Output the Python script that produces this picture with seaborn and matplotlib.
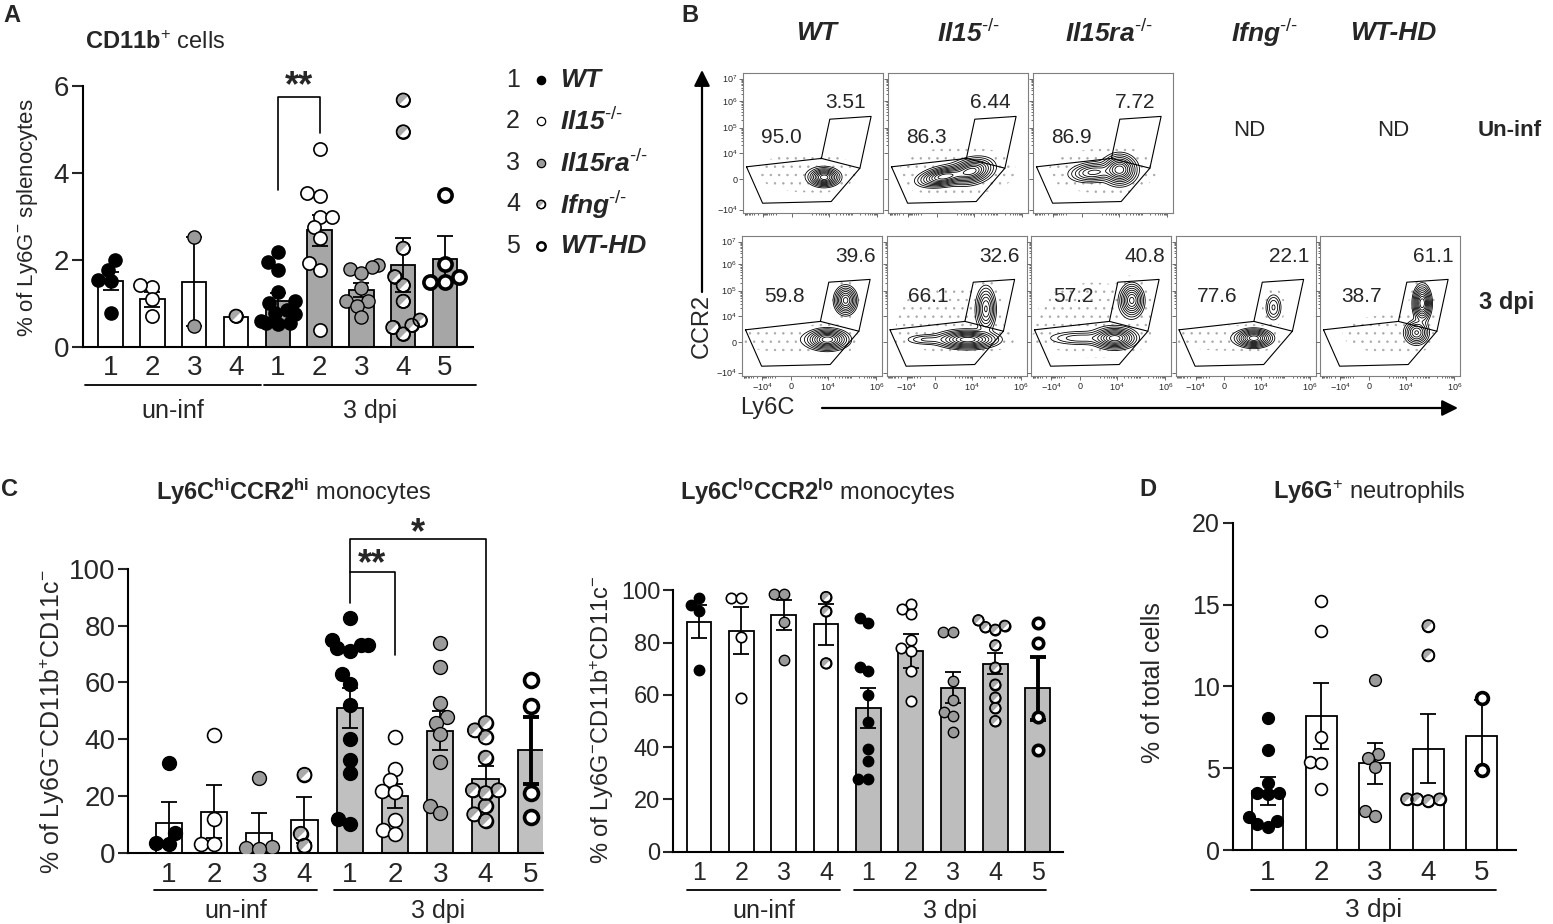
import numpy as np
import seaborn as sns
import matplotlib.pyplot as plt
from matplotlib import font_manager
from matplotlib.path import Path
from matplotlib.transforms import blended_transform_factory

sns.set_style('ticks')
have = {f.name for f in font_manager.fontManager.ttflist}
NARROW = 'Liberation Sans Narrow' if 'Liberation Sans Narrow' in have else 'Liberation Sans'
plt.rcParams['font.family'] = ['Liberation Sans', 'DejaVu Sans']
plt.rcParams['mathtext.fontset'] = 'custom'
plt.rcParams['mathtext.sf'] = 'Liberation Sans'
plt.rcParams['mathtext.rm'] = 'Liberation Sans'
plt.rcParams['mathtext.bf'] = 'Liberation Sans:bold'
plt.rcParams['mathtext.it'] = 'Liberation Sans:italic'
plt.rcParams['mathtext.default'] = 'sf'
plt.rcParams['hatch.color'] = '#a0a0a0'
plt.rcParams['hatch.linewidth'] = 0.5

W, H = 1553, 924

# ---------------- data ----------------
GENO_LABELS = ['WT', r'Il15$^{\text{-/-}}$', r'Il15ra$^{\text{-/-}}$', r'Ifng$^{\text{-/-}}$', 'WT-HD']
GENO_FACE = ['black', 'white', '#9b9b9b', 'white', 'white']
GENO_LW = [1.0, 1.2, 1.0, 1.2, 2.6]
IFNG_GRAY = '#a9a9a9'

GROUP_GENO = [0, 1, 2, 3, 0, 1, 2, 3, 4]
TICKS_9 = ['1', '2', '3', '4', '1', '2', '3', '4', '5']

# A: CD11b+ cells, % of Ly6G- splenocytes
A_MEAN = [1.52, 1.10, 1.50, 0.70, 1.05, 2.68, 1.32, 1.88, 2.03]
A_SEM = [0.20, 0.17, 1.02, 0.0, 0.20, 0.36, 0.16, 0.62, 0.52]
A_POINTS = [[2.0, 1.78, 1.55, 1.52, 0.78],
            [1.38, 1.42, 1.10, 0.72],
            [2.53, 0.49],
            [0.71],
            [2.18, 1.95, 1.78, 1.26, 1.05, 1.02, 0.85, 0.78, 0.75, 0.60, 0.55, 0.52, 0.55],
            [4.56, 3.55, 3.48, 3.0, 3.0, 2.75, 2.5, 1.94, 1.78, 0.4],
            [1.88, 1.85, 1.80, 1.70, 1.35, 1.05, 1.05, 0.95, 0.70],
            [5.68, 4.95, 2.27, 1.62, 1.42, 1.05, 0.62, 0.50, 0.45, 0.30],
            [3.5, 1.9, 1.6, 1.5, 1.5]]
A_SIG = [(4, 5, 3.62, 5.75, 4.93, '**', 5.98)]

# C left: Ly6C hi CCR2 hi monocytes
C1_MEAN = [10.5, 14.5, 7.0, 11.5, 51.0, 20.0, 43.0, 26.0, 36.0]
C1_SEM = [7.3, 9.4, 7.0, 8.2, 7.0, 4.3, 7.0, 4.6, 11.7]
C1_POINTS = [[31.5, 6.8, 3.5, 3.1],
             [41.3, 12.0, 2.9, 2.9],
             [26.4, 2.1, 1.7, 1.4],
             [27.5, 6.7, 2.5],
             [82.5, 75, 73, 73, 72, 71, 63, 59.5, 52, 40, 32.5, 28, 12, 10],
             [40.8, 29.5, 25.5, 21.8, 21.5, 11.5, 8.0, 6.5],
             [73.8, 65.5, 52.6, 47.8, 45.8, 41.8, 32, 16.5, 14],
             [45.7, 43.1, 40.6, 33.5, 22, 22, 21, 16.4, 13.5, 11.3],
             [61, 51.8, 21, 12.6]]
C1_SIG = [(4, 5, 88, 98.8, 69.8, '**', 101.3), (4, 7, 98.8, 110.6, 48.6, '*', 112.3)]

# C right: Ly6C lo CCR2 lo monocytes
C2_MEAN = [88, 84.5, 90.5, 87, 55, 77, 62.8, 72, 62.5]
C2_SEM = [6.3, 9.0, 5.8, 7.7, 7.5, 6.5, 6.0, 4.0, 12.0]
C2_POINTS = [[97, 94.6, 92.2, 69.6],
             [97, 97, 82, 59],
             [98.5, 98.5, 88, 73.5],
             [97.5, 92, 72.1],
             [89.5, 87.5, 70.8, 69, 60, 49.5, 39.5, 34.8, 28, 27.8],
             [95, 93, 91, 81, 78, 77, 69, 57.5],
             [84, 84, 65.5, 58, 53.5, 52, 46],
             [88.6, 86.5, 86, 85, 79, 70.5, 64, 59, 55, 50],
             [87.6, 80, 51.6, 38.9]]

# D: Ly6G+ neutrophils
D_GENO = [0, 1, 2, 3, 4]
D_MEAN = [3.6, 8.2, 5.3, 6.2, 7.0]
D_SEM = [0.85, 2.0, 1.25, 2.1, 2.2]
D_POINTS = [[8.1, 6.1, 4.1, 3.5, 3.5, 3.4, 2.0, 1.8, 1.6, 1.4],
            [15.2, 13.4, 6.9, 5.4, 5.3, 3.7],
            [10.4, 5.9, 5.6, 5.1, 2.4, 2.1],
            [13.7, 11.9, 3.1, 3.1, 3.1, 3.0],
            [9.3, 4.9]]

# B: flow plots (axis units 0-10); populations (cx, cy, sx, sy, angle, weight)
FLOW_TITLES = ['WT', r'Il15$^{\text{-/-}}$', r'Il15ra$^{\text{-/-}}$', r'Ifng$^{\text{-/-}}$', 'WT-HD']
FLOW_TOP = [
    [(5.8, 2.55, 0.50, 0.30, 0, 1.0), (4.6, 2.9, 2.0, 0.8, 0, 0.03)],
    [(4.0, 2.6, 0.85, 0.30, 10, 0.8), (6.0, 3.0, 0.70, 0.40, 15, 0.75), (5.0, 3.0, 2.2, 0.9, 0, 0.03)],
    [(4.3, 2.9, 0.80, 0.32, 5, 0.5), (6.2, 3.1, 0.55, 0.50, 0, 1.0), (5.0, 3.0, 2.2, 0.9, 0, 0.03)],
]
FLOW_BOT = [
    [(6.1, 2.6, 0.70, 0.35, 0, 1.0), (7.4, 5.4, 0.38, 0.48, 0, 0.8), (3.5, 2.6, 2.2, 0.5, 0, 0.03)],
    [(5.8, 2.6, 1.00, 0.30, 0, 1.0), (2.8, 2.6, 0.80, 0.20, 0, 0.15), (7.1, 4.8, 0.33, 0.75, 0, 0.6),
     (4.5, 4.0, 2.5, 1.5, 0, 0.02)],
    [(6.0, 2.7, 0.70, 0.35, 0, 1.0), (3.5, 2.7, 1.20, 0.25, 0, 0.2), (7.2, 5.4, 0.40, 0.55, 0, 0.8),
     (4.5, 4.0, 2.5, 1.6, 0, 0.025)],
    [(5.6, 2.7, 0.60, 0.30, 0, 1.0), (7.0, 4.9, 0.30, 0.50, 0, 0.25), (3.5, 2.7, 2.0, 0.5, 0, 0.03)],
    [(7.3, 5.2, 0.30, 0.60, 0, 1.0), (6.9, 3.1, 0.40, 0.40, 0, 0.6), (5.0, 3.0, 2.5, 1.0, 0, 0.015)],
]
FLOW_TOP_LEFT = ['95.0', '86.3', '86.9']
FLOW_TOP_RIGHT = ['3.51', '6.44', '7.72']
FLOW_BOT_LEFT = ['59.8', '66.1', '57.2', '77.6', '38.7']
FLOW_BOT_RIGHT = ['39.6', '32.6', '40.8', '22.1', '61.1']
GATE_LO_X = [0.25, 5.6, 8.35, 6.3, 1.4, 0.25]
GATE_LO_Y = [3.3, 3.9, 3.2, 0.82, 0.7, 3.3]
GATE_HI_X = [5.6, 6.2, 9.15, 8.35]
GATE_HI_Y = [3.9, 6.7, 6.9, 3.2]
FX_TICKS = [1.44, 3.48, 6.12, 9.6]
FX_LABELS = [r'$-10^{4}$', '0', r'$10^{4}$', r'$10^{6}$']
FY_TICKS = [0.24, 2.4, 4.3, 6.1, 8.0, 9.6]
FY_LABELS = [r'$-10^{4}$', '0', r'$10^{4}$', r'$10^{5}$', r'$10^{6}$', r'$10^{7}$']
LEVELS = [0.05, 0.09, 0.15, 0.23, 0.33, 0.45, 0.58, 0.72, 0.87]

fig = plt.figure(figsize=(W / 100, H / 100), dpi=100)
renderer = fig.canvas.get_renderer()


def rect(x0, y0, x1, y1):
    return [x0 / W, 1 - y1 / H, (x1 - x0) / W, (y1 - y0) / H]


HALF = Path.wedge(45, 225)


def bar_panel(ax, means, sems, points, genos, faces, ms, xlim, ylim, hd_err_lw=1.3):
    pos = np.arange(len(means))
    ax.set_xlim(*xlim)
    ax.set_ylim(*ylim)
    sns.barplot(x=pos, y=means, native_scale=True, width=0.58, color='white',
                edgecolor='black', linewidth=1.3, errorbar=None, ax=ax, zorder=1)
    for patch, fc in zip(ax.patches, faces):
        patch.set_facecolor(fc)
    for p, m, s, g in zip(pos, means, sems, genos):
        if s > 0:
            lw = hd_err_lw if g == 4 else 1.3
            ax.errorbar(p, m, yerr=s, fmt='none', ecolor='black', elinewidth=lw,
                        capsize=6, capthick=lw, zorder=2.5)
    ax.set_xlim(*xlim)
    ax.set_ylim(*ylim)
    for p, vals, g in zip(pos, points, genos):
        # let seaborn place the swarm with a tighter size, then draw full-size dots there
        sns.swarmplot(x=np.full(len(vals), p), y=vals, native_scale=True, size=ms * 0.78,
                      color=GENO_FACE[g], edgecolor='black', linewidth=GENO_LW[g], ax=ax)
        ax.set_xlim(*xlim)
        ax.set_ylim(*ylim)
        coll = ax.collections[-1]
        coll.draw(renderer)
        off = np.array(coll.get_offsets())
        coll.remove()
        ax.scatter(off[:, 0], off[:, 1], s=ms ** 2, color=GENO_FACE[g], edgecolors='black',
                   linewidths=GENO_LW[g], zorder=3)
        if g == 3:
            ax.scatter(off[:, 0], off[:, 1], s=ms ** 2, marker=HALF, color=IFNG_GRAY,
                       linewidths=0, zorder=3.1)
            ax.scatter(off[:, 0], off[:, 1], s=ms ** 2, facecolors='none',
                       edgecolors='black', linewidths=GENO_LW[g], zorder=3.2)
    ax.set_xlim(*xlim)
    ax.set_ylim(*ylim)
    sns.despine(ax=ax)
    for s in ['left', 'bottom']:
        ax.spines[s].set_linewidth(1.5)
        ax.spines[s].set_color('black')


def group_lines(ax, spans, labels, yline, ytext, fs, family):
    tr = blended_transform_factory(ax.transData, fig.transFigure)
    for (a, b), lab in zip(spans, labels):
        ax.plot([a, b], [1 - yline / H] * 2, color='black', lw=1.3, transform=tr, clip_on=False)
        ax.text((a + b) / 2, 1 - ytext / H, lab, transform=tr, ha='center', va='center',
                fontsize=fs, family=family)


def brackets(ax, sigs, fs):
    for x1, x2, y1, yt, y2, lab, ty in sigs:
        ax.plot([x1, x1, x2, x2], [y1, yt, yt, y2], color='black', lw=1.2, clip_on=False)
        ax.text((x1 + x2) / 2, ty, lab, ha='center', va='center', fontsize=fs, fontweight='bold')


# ---------------- panel A ----------------
axA = fig.add_axes(rect(83, 60, 473, 347))
bar_panel(axA, A_MEAN, A_SEM, A_POINTS, GROUP_GENO, ['white'] * 4 + ['#a6a6a6'] * 5, 9.5,
          (-0.66, 8.67), (0, 6.6))
brackets(axA, A_SIG, 26)
axA.spines['left'].set_bounds(0, 6)
axA.set_yticks([0, 2, 4, 6])
axA.set_xticks(range(9))
axA.set_xticklabels(TICKS_9)
axA.tick_params(axis='y', length=8, width=1.5, labelsize=20, pad=2)
axA.tick_params(axis='x', length=0, labelsize=20, pad=6)
group_lines(axA, [(-0.61, 3.6), (3.68, 8.75)], ['un-inf', '3 dpi'], 385, 411, 18, 'Liberation Sans')

# legend for genotypes
axL = fig.add_axes(rect(500, 60, 680, 265))
axL.axis('off')
axL.set_xlim(500, 680)
axL.set_ylim(5.458, 0.518)
for i, lab in enumerate(GENO_LABELS):
    r = i + 1
    axL.text(513, r, str(r), ha='center', va='center', fontsize=18)
    axL.scatter([541], [r], s=36, color=GENO_FACE[i], edgecolors='black',
                linewidths=1.8 if i == 4 else 0.9, zorder=3)
    if i == 3:
        axL.scatter([541], [r], s=36, marker=HALF, color=IFNG_GRAY, linewidths=0, zorder=3.1)
        axL.scatter([541], [r], s=36, facecolors='none', edgecolors='black', linewidths=0.9, zorder=3.2)
    axL.text(560, r, lab, ha='left', va='center', fontsize=19, fontweight='bold', fontstyle='italic')

# ---------------- panel B ----------------
fx_minor = []
for base in [4.38, 6.12, 7.86]:
    for k in range(2, 10):
        fx_minor.append(base + 1.74 * np.log10(k))
fx_minor = fx_minor + [3.48 - (p - 3.48) * 0.77 for p in fx_minor + [6.12, 7.86]]
fx_minor = [p for p in fx_minor if 0.05 < p < 9.95]
fy_minor = []
for base, nxt in [(4.3, 6.1), (6.1, 8.0), (8.0, 9.6)]:
    for k in range(2, 10):
        fy_minor.append(base + (nxt - base) * np.log10(k))
fy_minor = fy_minor + [2.4 - (p - 2.4) * 1.14 for p in fy_minor[:8]]
fy_minor = [p for p in fy_minor if 0.05 < p < 9.95]

gx, gy = np.meshgrid(np.linspace(0, 10, 260), np.linspace(0, 10, 260))


def flow_axes(x0, y0, comps, lnum, rnum, lpos, rpos, xlab, ylab):
    ax = fig.add_axes(rect(x0, y0, x0 + 140, y0 + 140))
    dens = np.zeros_like(gx)
    for cx, cy, sx, sy, ang, w in comps:
        t = np.deg2rad(ang)
        dx, dy = gx - cx, gy - cy
        u = dx * np.cos(t) + dy * np.sin(t)
        v = -dx * np.sin(t) + dy * np.cos(t)
        dens += w * np.exp(-0.5 * ((u / sx) ** 2 + (v / sy) ** 2))
    peak = dens.max()
    halo = ax.contourf(gx, gy, dens, levels=[peak * 0.006, peak * LEVELS[0]], colors='none',
                       hatches=['..'])
    halo.set_edgecolor('#a8a8a8')
    halo.set_linewidth(0)
    ax.contour(gx, gy, dens, levels=peak * np.array(LEVELS), colors='black', linewidths=0.6)
    ax.plot(GATE_LO_X, GATE_LO_Y, color='black', lw=0.8)
    ax.plot(GATE_HI_X, GATE_HI_Y, color='black', lw=0.8)
    ax.text(lpos[0], lpos[1], lnum, ha='center', va='center', fontsize=15)
    ax.text(rpos[0], rpos[1], rnum, ha='center', va='center', fontsize=15)
    ax.set_xlim(0, 10)
    ax.set_ylim(0, 10)
    ax.set_xticks(FX_TICKS)
    ax.set_yticks(FY_TICKS)
    ax.set_xticks(fx_minor, minor=True)
    ax.set_yticks(fy_minor, minor=True)
    ax.set_xticklabels(FX_LABELS if xlab else [])
    ax.set_yticklabels(FY_LABELS if ylab else [])
    ax.tick_params(which='both', direction='out', width=0.6, labelsize=6.5, pad=1, color='#555555')
    ax.tick_params(which='major', length=3)
    ax.tick_params(which='minor', length=1.6)
    for s in ax.spines.values():
        s.set_color('#7f7f7f')
        s.set_linewidth(0.8)
    return ax


for i in range(3):
    flow_axes(743 + 145 * i, 73, FLOW_TOP[i], FLOW_TOP_LEFT[i], FLOW_TOP_RIGHT[i],
              (2.75, 5.4), (7.3, 7.9), False, i == 0)
for i in range(5):
    flow_axes(742 + 144.5 * i, 236, FLOW_BOT[i], FLOW_BOT_LEFT[i], FLOW_BOT_RIGHT[i],
              (3.0, 5.7), (8.1, 8.5), True, i == 0)

# ---------------- panel C ----------------
axC1 = fig.add_axes(rect(128, 512, 543, 852.7))
bar_panel(axC1, C1_MEAN, C1_SEM, C1_POINTS, GROUP_GENO, ['white'] * 4 + ['#c0c0c0'] * 5, 10,
          (-0.9, 8.27), (0, 120), 2.8)
brackets(axC1, C1_SIG, 26)
axC1.spines['left'].set_bounds(0, 100)
axC1.set_yticks([0, 20, 40, 60, 80, 100])
axC1.set_xticks(range(9))
axC1.set_xticklabels(TICKS_9)
axC1.tick_params(axis='y', length=7, width=1.5, labelsize=20, pad=2)
axC1.tick_params(axis='x', length=0, labelsize=20, pad=7)
group_lines(axC1, [(-0.32, 3.28), (3.65, 8.26)], ['un-inf', '3 dpi'], 890, 911, 18, 'Liberation Sans')

axC2 = fig.add_axes(rect(672.7, 580, 1063, 851.7))
bar_panel(axC2, C2_MEAN, C2_SEM, C2_POINTS, GROUP_GENO, ['white'] * 4 + ['#bdbdbd'] * 5, 7.5,
          (-0.62, 8.6), (0, 104), 2.8)
axC2.spines['left'].set_bounds(0, 100)
axC2.set_yticks([0, 20, 40, 60, 80, 100])
axC2.set_xticks(range(9))
axC2.set_xticklabels(TICKS_9)
axC2.tick_params(axis='y', length=7, width=1.5, labelsize=17, pad=2)
axC2.tick_params(axis='x', length=0, labelsize=18, pad=7)
for t in axC2.get_xticklabels() + axC2.get_yticklabels():
    t.set_family(NARROW)
group_lines(axC2, [(-0.28, 3.33), (3.66, 8.2)], ['un-inf', '3 dpi'], 890, 911, 18, NARROW)

# ---------------- panel D ----------------
axD = fig.add_axes(rect(1232.6, 518, 1516, 850))
bar_panel(axD, D_MEAN, D_SEM, D_POINTS, D_GENO, ['white'] * 5, 8.5, (-0.66, 4.64), (0, 20.3))
axD.spines['left'].set_bounds(0, 20)
axD.set_yticks([0, 5, 10, 15, 20])
axD.set_xticks(range(5))
axD.set_xticklabels(['1', '2', '3', '4', '5'])
axD.tick_params(axis='y', length=7, width=1.5, labelsize=18, pad=2)
axD.tick_params(axis='x', length=0, labelsize=20, pad=7)
for t in axD.get_xticklabels() + axD.get_yticklabels():
    t.set_family(NARROW)
group_lines(axD, [(-0.31, 4.27)], ['3 dpi'], 890, 910, 19, NARROW)

# ---------------- overlay texts ----------------
ov = fig.add_axes([0, 0, 1, 1])
ov.set_xlim(0, W)
ov.set_ylim(H, 0)
ov.axis('off')
for x, y, s in [(12, 15, 'A'), (690, 15, 'B'), (10, 489, 'C'), (1148, 489, 'D')]:
    ov.text(x, y, s, ha='center', va='center', fontsize=17, fontweight='bold')

ov.text(85, 43, r'$\mathbf{CD11b}^{+}$ cells', ha='left', va='center', fontsize=17)
ov.text(294, 492, r'$\mathbf{Ly6C}^{\mathbf{hi}}\mathbf{CCR2}^{\mathbf{hi}}$ monocytes',
        ha='center', va='center', fontsize=17)
ov.text(818, 492, r'$\mathbf{Ly6C}^{\mathbf{lo}}\mathbf{CCR2}^{\mathbf{lo}}$ monocytes',
        ha='center', va='center', fontsize=17, family=NARROW)
ov.text(1369, 492, r'$\mathbf{Ly6G}^{+}$ neutrophils', ha='center', va='center',
        fontsize=17, family=NARROW)

ov.text(28, 218, r'% of Ly6G$^{-}$ splenocytes', rotation=90, ha='center', va='center', fontsize=16)
ov.text(52, 722, r'% of Ly6G$^{-}$CD11b$^{+}$CD11c$^{-}$', rotation=90, ha='center', va='center',
        fontsize=18)
ov.text(602, 720, r'% of Ly6G$^{-}$CD11b$^{+}$CD11c$^{-}$', rotation=90,
        ha='center', va='center', fontsize=17, family=NARROW)
ov.text(1153, 683, '% of total cells', rotation=90, ha='center', va='center', fontsize=18)

for x, s in zip([817, 968, 1109, 1265, 1393], FLOW_TITLES):
    ov.text(x, 33, s, ha='center', va='center', fontsize=19, fontweight='bold', fontstyle='italic')
ov.text(1249, 130, 'ND', ha='center', va='center', fontsize=16)
ov.text(1393, 130, 'ND', ha='center', va='center', fontsize=16)
ov.text(1478, 130, 'Un-inf', ha='left', va='center', fontsize=16, fontweight='bold')
ov.text(1479, 302, '3 dpi', ha='left', va='center', fontsize=17, fontweight='bold')
ov.text(702, 326, 'CCR2', rotation=90, ha='center', va='center', fontsize=17)
ov.text(767, 408, 'Ly6C', ha='center', va='center', fontsize=17)
ov.annotate('', xy=(702, 70), xytext=(702, 292),
            arrowprops=dict(arrowstyle='-|>', color='black', lw=1.6, mutation_scale=24,
                            shrinkA=0, shrinkB=0))
ov.annotate('', xy=(1458, 408), xytext=(822, 408),
            arrowprops=dict(arrowstyle='-|>', color='black', lw=1.6, mutation_scale=24,
                            shrinkA=0, shrinkB=0))

fig.savefig('out.png', dpi=100)
